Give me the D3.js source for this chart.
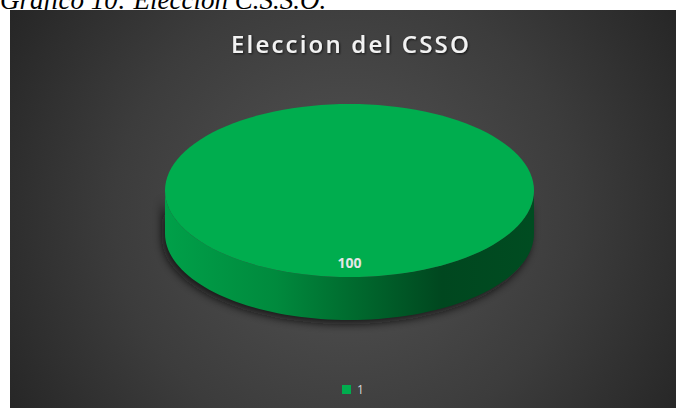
<!DOCTYPE html>
<html>
<head>
<meta charset="utf-8">
<script src="https://cdn.jsdelivr.net/npm/d3@7"></script>
<style>
  html, body { margin: 0; padding: 0; background: #fff; }
  svg { display: block; }
</style>
</head>
<body>
<div id="chart"></div>
<script>
const CAPTION = 'Grafico 10: Eleccion C.S.S.O.';
const TITLE = 'Eleccion del CSSO';
const CATEGORIES = ['1'];
const VALUES = [100];

const WIDTH = 676;
const HEIGHT = 408;
const BOX = { left: 10, top: 10 };
const PIE = { cx: 349.5, cy: 190.5, rx: 184.5, ry: 86.5, depth: 43 };
const COLORS = ['#00ad4e'];

const svg = d3.select('#chart')
  .append('svg')
    .attr('width', WIDTH)
    .attr('height', HEIGHT);

const defs = svg.append('defs');

const bg = defs.append('radialGradient')
  .attr('id', 'bg')
  .attr('gradientUnits', 'userSpaceOnUse')
  .attr('cx', 345).attr('cy', 215).attr('r', 420);
bg.append('stop').attr('offset', 0).attr('stop-color', '#545454');
bg.append('stop').attr('offset', 0.55).attr('stop-color', '#3c3c3c');
bg.append('stop').attr('offset', 1).attr('stop-color', '#222222');

const side = defs.append('linearGradient')
  .attr('id', 'side')
  .attr('gradientUnits', 'userSpaceOnUse')
  .attr('x1', PIE.cx - PIE.rx).attr('x2', PIE.cx + PIE.rx)
  .attr('y1', 0).attr('y2', 0);
[[0, '#00a049'], [0.3, '#008a3d'], [0.5, '#006c2f'], [0.75, '#00471f'], [1, '#004c21']]
  .forEach(s => side.append('stop').attr('offset', s[0]).attr('stop-color', s[1]));

const blur = defs.append('filter').attr('id', 'shadow')
  .attr('x', '-20%').attr('y', '-20%').attr('width', '140%').attr('height', '140%');
blur.append('feGaussianBlur').attr('stdDeviation', 4);

const txtShadow = defs.append('filter').attr('id', 'tshadow');
txtShadow.append('feDropShadow')
  .attr('dx', 1).attr('dy', 1).attr('stdDeviation', 1.2)
  .attr('flood-color', '#000').attr('flood-opacity', 0.7);

// caption above the chart box (cut off at the top, as in the source)
svg.append('text')
  .attr('x', 0)
  .attr('y', 9)
  .attr('font-family', 'Liberation Serif, serif')
  .attr('font-style', 'italic')
  .attr('font-size', 27)
  .attr('fill', '#000')
  .text(CAPTION);

svg.append('rect')
  .attr('x', BOX.left).attr('y', BOX.top)
  .attr('width', WIDTH - BOX.left).attr('height', HEIGHT - BOX.top)
  .attr('fill', 'url(#bg)');

svg.append('text')
  .attr('x', 351)
  .attr('y', 53)
  .attr('text-anchor', 'middle')
  .attr('font-family', 'Open Sans, sans-serif')
  .attr('font-weight', 600)
  .attr('font-size', 24)
  .attr('letter-spacing', 2.2)
  .attr('fill', '#f2f2f2')
  .attr('filter', 'url(#tshadow)')
  .text(TITLE);

// ---- 3D pie ----
const color = d3.scaleOrdinal().domain(CATEGORIES).range(COLORS);
const pie = d3.pie().sort(null).value(d => d.value);
const arcs = pie(CATEGORIES.map((c, i) => ({ cat: c, value: VALUES[i] })));

const px = a => PIE.cx + PIE.rx * Math.sin(a);
const py = a => PIE.cy - PIE.ry * Math.cos(a);

function topPath(d) {
  const full = d.endAngle - d.startAngle >= 2 * Math.PI - 1e-6;
  const p = d3.path();
  const steps = 120;
  if (!full) p.moveTo(PIE.cx, PIE.cy);
  for (let i = 0; i <= steps; i++) {
    const a = d.startAngle + (d.endAngle - d.startAngle) * i / steps;
    if (i === 0 && full) p.moveTo(px(a), py(a)); else p.lineTo(px(a), py(a));
  }
  p.closePath();
  return p.toString();
}

function sidePath(d) {
  const a0 = Math.max(d.startAngle, Math.PI / 2);
  const a1 = Math.min(d.endAngle, 3 * Math.PI / 2);
  if (a1 <= a0) return null;
  const p = d3.path();
  const steps = 80;
  for (let i = 0; i <= steps; i++) {
    const a = a0 + (a1 - a0) * i / steps;
    if (i === 0) p.moveTo(px(a), py(a)); else p.lineTo(px(a), py(a));
  }
  for (let i = steps; i >= 0; i--) {
    const a = a0 + (a1 - a0) * i / steps;
    p.lineTo(px(a), py(a) + PIE.depth);
  }
  p.closePath();
  return p.toString();
}

const pieG = svg.append('g');

// soft shadow under the disc
pieG.selectAll('path.shadow')
  .data(arcs)
  .enter().append('path')
    .attr('class', 'shadow')
    .attr('d', d => sidePath(d))
    .attr('transform', 'translate(-3,4)')
    .attr('fill', '#111')
    .attr('opacity', 0.8)
    .attr('filter', 'url(#shadow)');

pieG.selectAll('path.side')
  .data(arcs)
  .enter().append('path')
    .attr('class', 'side')
    .attr('d', d => sidePath(d))
    .attr('fill', 'url(#side)');

pieG.selectAll('path.top')
  .data(arcs)
  .enter().append('path')
    .attr('class', 'top')
    .attr('d', d => topPath(d))
    .attr('fill', d => color(d.data.cat));

pieG.selectAll('text.label')
  .data(arcs)
  .enter().append('text')
    .attr('class', 'label')
    .attr('x', d => PIE.cx + PIE.rx * 0.84 * Math.sin((d.startAngle + d.endAngle) / 2))
    .attr('y', d => PIE.cy - PIE.ry * 0.84 * Math.cos((d.startAngle + d.endAngle) / 2) + 5)
    .attr('text-anchor', 'middle')
    .attr('font-family', 'Open Sans, sans-serif')
    .attr('font-weight', 'bold')
    .attr('font-size', 14)
    .attr('fill', '#e6e6e6')
    .text(d => d.data.value);

// legend
const legend = svg.append('g')
  .attr('transform', 'translate(342,385)');
const item = legend.selectAll('g')
  .data(CATEGORIES)
  .enter().append('g');
item.append('rect')
  .attr('width', 9).attr('height', 9)
  .attr('fill', d => color(d));
item.append('text')
  .attr('x', 15).attr('y', 9)
  .attr('font-family', 'Open Sans, sans-serif')
  .attr('font-size', 12)
  .attr('fill', '#d9d9d9')
  .text(d => d);
</script>
</body>
</html>
